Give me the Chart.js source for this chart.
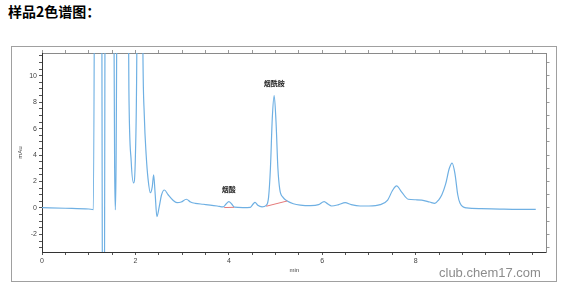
<!DOCTYPE html>
<html>
<head>
<meta charset="utf-8">
<title>样品2色谱图</title>
<script src="https://cdn.jsdelivr.net/npm/chart.js@4/dist/chart.umd.min.js"></script>
<style>
  html, body { margin: 0; padding: 0; background: #fff; }
  #page { position: relative; width: 566px; height: 288px; overflow: hidden; }
  #title {
    position: absolute; left: 8px; top: 3px;
    font: bold 14px "Noto Sans CJK SC", sans-serif; color: #000; line-height: 16px;
  }
  #frame {
    position: absolute; left: 11px; top: 46px; width: 546px; height: 236px;
    box-sizing: border-box; border: 1px solid #a0a0a0;
  }
  #wrap { position: absolute; left: 0; top: 0; width: 566px; height: 288px; }
  #mark {
    position: absolute; left: 439px; top: 266px;
    font: 13px "Liberation Sans", Arial, sans-serif; color: #8c8c8c; line-height: 13px;
  }
</style>
</head>
<body>
<div id="page">
  <div id="title">样品2色谱图：</div>
  <div id="frame"></div>
  <div id="wrap"><canvas id="chromChart"></canvas></div>
  <div id="mark">club.chem17.com</div>
</div>
<script>
// retention time (min) and detector signal (mAu)
const times = [
  0, 0.5, 1.0, 1.10, 1.15, 1.26, 1.31, 1.32, 1.37, 1.50,
  1.555, 1.57, 1.585, 1.64, 1.80, 1.86, 1.91, 1.96, 2.00, 2.03,
  2.06, 2.12, 2.16, 2.19, 2.23, 2.27, 2.32, 2.36, 2.39, 2.42,
  2.46, 2.51, 2.56, 2.62, 2.70, 2.80, 2.89, 2.98, 3.09, 3.18,
  3.28, 3.45, 3.60, 3.75, 3.88, 3.94, 4.00, 4.06, 4.12, 4.30,
  4.46, 4.52, 4.56, 4.62, 4.71, 4.80, 4.85, 4.89, 4.93, 4.97,
  5.01, 5.05, 5.09, 5.16, 5.25, 5.38, 5.53, 5.75, 5.92, 6.04,
  6.12, 6.20, 6.35, 6.49, 6.62, 6.81, 7.00, 7.24, 7.40, 7.50,
  7.59, 7.70, 7.84, 8.00, 8.13, 8.30, 8.41, 8.49, 8.56, 8.64,
  8.72, 8.78, 8.84, 8.90, 8.95, 9.09, 9.40, 9.80, 10.20, 10.57
];
const signal = [
  0.02, -0.02, -0.08, -0.12, 40, 40, -25, -25, 40, 40,
  3, -0.15, 3, 40, 40, 9, 3.5, 1.9, 4, 12,
  40, 40, 12, 7, 4, 2.2, 1.15, 1.6, 2.5, 1.2,
  -0.66, 0.1, 1.0, 1.36, 1.0, 0.6, 0.4, 0.45, 0.66, 0.45,
  0.35, 0.28, 0.22, 0.15, 0.08, 0.3, 0.48, 0.3, 0.06, 0.03,
  0.05, 0.3, 0.43, 0.2, 0.08, 0.2, 0.8, 3.0, 6.8, 8.5,
  6.5, 3.0, 1.4, 0.8, 0.52, 0.32, 0.22, 0.18, 0.25, 0.48,
  0.3, 0.15, 0.25, 0.4, 0.25, 0.15, 0.15, 0.25, 0.6, 1.3,
  1.67, 1.2, 0.66, 0.62, 0.6, 0.45, 0.35, 0.6, 1.0, 1.8,
  3.0, 3.39, 2.6, 1.0, 0.35, 0.0, -0.05, -0.08, -0.1, -0.1
];

// integration baselines (red) under the two named peaks
const base1Times = [3.90, 4.11];
const base1Values = [0.03, 0.05];
const base2Times = [4.80, 5.25];
const base2Values = [0.13, 0.53];

// peak names
const peakNames = ["烟酸", "烟酰胺"];
const peakTimes = [4.00, 4.97];
const peakHeights = [0.48, 8.5];

const xMin = 0, xMax = 10.8;
const yMin = -3.33, yMax = 11.72;
const xLabels = [0, 2, 4, 6, 8];
const yLabels = [-2, 0, 2, 4, 6, 8, 10];

function toPoints(xs, ys) {
  return xs.map((x, i) => ({ x: x, y: ys[i] }));
}

// writes the peak names just above their apex
const peakLabelPlugin = {
  id: "peakLabels",
  afterDatasetsDraw(chart) {
    const { ctx, scales } = chart;
    ctx.save();
    ctx.font = "bold 7px 'Noto Sans CJK SC'";
    ctx.fillStyle = "#222";
    ctx.textAlign = "center";
    ctx.textBaseline = "middle";
    peakNames.forEach((name, i) => {
      const px = scales.x.getPixelForValue(peakTimes[i]);
      const py = scales.y.getPixelForValue(peakHeights[i]);
      ctx.fillText(name, px, py - 12);
    });
    ctx.restore();
  }
};

const tickFont = { family: "'Liberation Sans', Arial, sans-serif", size: 7 };

new Chart(document.getElementById("chromChart"), {
  type: "line",
  data: {
    datasets: [
      {
        data: toPoints(base1Times, base1Values),
        borderColor: "#e57a7a",
        borderWidth: 1,
        pointRadius: 0
      },
      {
        data: toPoints(base2Times, base2Values),
        borderColor: "#e57a7a",
        borderWidth: 1,
        pointRadius: 0
      },
      {
        data: toPoints(times, signal),
        borderColor: "#6fb0e3",
        borderWidth: 1.2,
        pointRadius: 0,
        cubicInterpolationMode: "monotone"
      }
    ]
  },
  options: {
    responsive: true,
    maintainAspectRatio: false,
    devicePixelRatio: 1,
    animation: false,
    layout: { padding: { left: 12, right: 16.5, top: 50, bottom: 12 } },
    plugins: { legend: { display: false }, tooltip: { enabled: false } },
    scales: {
      x: {
        type: "linear",
        position: "bottom",
        min: xMin,
        max: xMax,
        afterFit: (s) => { s.height = 24; },
        ticks: {
          stepSize: 0.5,
          includeBounds: false,
          autoSkip: false,
          maxRotation: 0,
          padding: 2,
          font: tickFont,
          color: "#444",
          callback: (v) => (xLabels.includes(v) ? String(v) : "")
        },
        grid: { drawOnChartArea: false, tickLength: 3, color: "#555" },
        border: { color: "#333" },
        title: { display: true, text: "min", font: { size: 6 }, color: "#444", padding: { top: 0, bottom: 2 } }
      },
      x2: {
        type: "linear",
        position: "top",
        min: xMin,
        max: xMax,
        afterFit: (s) => { s.height = 3; },
        ticks: { display: false, stepSize: 0.5, includeBounds: false, autoSkip: false },
        grid: { drawOnChartArea: false, tickLength: 3, color: "#999" },
        border: { color: "#8a8a8a" }
      },
      y: {
        position: "left",
        min: yMin,
        max: yMax,
        afterFit: (s) => { s.width = 30; },
        ticks: {
          stepSize: 0.5,
          includeBounds: false,
          autoSkip: false,
          padding: 2,
          font: tickFont,
          color: "#444",
          callback: (v) => (yLabels.includes(v) ? String(v) : "")
        },
        grid: { drawOnChartArea: false, tickLength: 3, color: "#555" },
        border: { color: "#333" },
        title: { display: true, text: "mAu", font: { size: 6 }, color: "#444", padding: { top: 5, bottom: 0 } }
      },
      y2: {
        position: "right",
        min: yMin,
        max: yMax,
        afterFit: (s) => { s.width = 3; },
        ticks: { display: false, stepSize: 1, includeBounds: false, autoSkip: false },
        grid: { drawOnChartArea: false, tickLength: 3, color: "#999" },
        border: { color: "#8a8a8a" }
      }
    }
  },
  plugins: [peakLabelPlugin]
});
</script>
</body>
</html>
